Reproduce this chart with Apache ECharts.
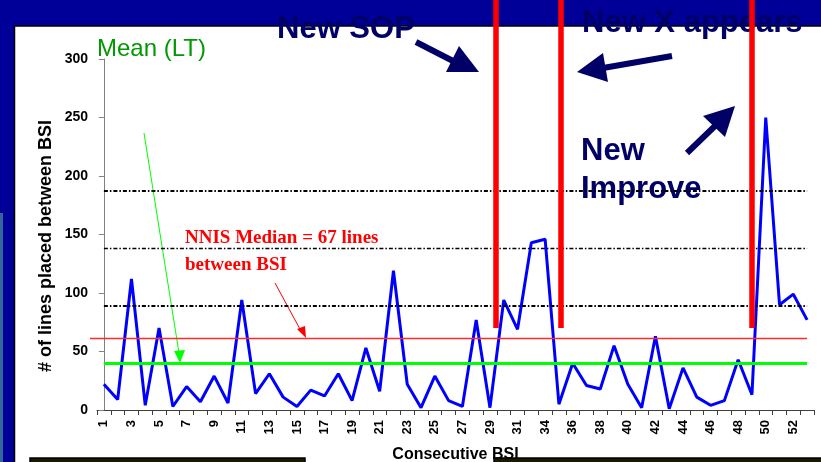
<!DOCTYPE html>
<html><head><meta charset="utf-8">
<script src="https://cdn.jsdelivr.net/npm/echarts@6/dist/echarts.min.js"></script>
<style>html,body{margin:0;padding:0;background:#fff}#c{width:821px;height:462px}</style>
</head><body><div id="c"></div>
<script>
// ---- data ----
const categories = ['1','2','3','4','5','6','7','8','9','10','11','12','13','14','15','16','17','18','19','20','21','22','23','24','25','26','27','28','29','30','31','32','34','35','36','37','38','39','40','41','42','43','44','45','46','47','48','49','50','51','52','53'];
const linesBetweenBSI = [22,9,112,4,70,3,20,7,29,6,94,14,31,11,3,17,12,31,8,53,16,119,22,2,29,8,3,77,2,94,69,143,146,5,40,21,18,55,22,2,63,1,36,11,4,8,43,13,250,90,99,77];
const yMin = 0, yMax = 300, yInterval = 50;
const meanLT = 40;
const nnisLine = 61;
const controlLines = [89, 138, 187];
const changePositions = [28.45, 33.1, 47.0]; // category index positions of the red change bars
const changeBarBottom = 70;

const FONT = 'Liberation Sans';
const NAVY = '#000066';
const chart = echarts.init(document.getElementById('c'), null, {renderer:'canvas'});

const firstIdx = 0, lastIdx = categories.length - 1;

const dashData = controlLines.map((v, i) => [
  {coord:[firstIdx, v], lineStyle:{color:'#000', width: i === 1 ? 1.4 : 2, type:[4,2,1.5,2]}},
  {coord:[lastIdx, v]}
]);

const changeData = changePositions.map(p => [
  {coord:[p, changeBarBottom]},
  {xAxis: p, y: 0}
]);

function arrow(shaft, head, color, width) {
  return [
    {type:'polyline', shape:{points:shaft}, style:{stroke:color, lineWidth:width, fill:null}, z:1, silent:true},
    {type:'polygon', shape:{points:head}, style:{fill:color}, z:1, silent:true}
  ];
}

function txt(x, y, text, size, color, weight, family) {
  return {type:'text', x:x, y:y, z:1, silent:true,
    style:{text:text, fill:color, font:(weight||'normal') + ' ' + size + 'px "' + (family||FONT) + '"', textVerticalAlign:'middle', verticalAlign:'middle', align:'left'}};
}

const option = {
  backgroundColor:'#ffffff',
  animation:false,
  grid:{left:97, right:7, top:59, bottom:52, containLabel:false, outerBoundsMode:'none'},
  xAxis:[{
    type:'category', data:categories, boundaryGap:true,
    axisLine:{show:true, lineStyle:{color:'#404040', width:1}},
    axisTick:{show:true, interval:0, length:5, lineStyle:{color:'#404040'}},
    axisLabel:{interval:1, rotate:90, margin:10, color:'#000', fontFamily:FONT, fontWeight:'bold', fontSize:13},
    splitLine:{show:false},
    name:'Consecutive BSI', nameLocation:'middle', nameGap:37, nameMoveOverlap:false,
    nameTextStyle:{color:'#000', fontFamily:FONT, fontWeight:'bold', fontSize:16}
  },{
    type:'value', min:-0.5, max:categories.length - 0.5, show:false
  }],
  yAxis:{
    type:'value', min:yMin, max:yMax, interval:yInterval,
    axisLine:{show:true, lineStyle:{color:'#808080', width:1}},
    axisTick:{show:true, length:5, lineStyle:{color:'#808080'}},
    axisLabel:{margin:9, color:'#000', fontFamily:FONT, fontWeight:'bold', fontSize:14},
    splitLine:{show:false},
    name:'# of lines placed between BSI', nameLocation:'middle', nameGap:42, nameRotate:90, nameMoveOverlap:false,
    nameTextStyle:{color:'#000', fontFamily:FONT, fontWeight:'bold', fontSize:18, padding:[0,23,0,0]}
  },
  series:[
    {
      type:'line', xAxisIndex:1, data:[], silent:true, z:2,
      markLine:{silent:true, symbol:['none','none'], label:{show:false}, animation:false,
        data:[
          [{coord:[firstIdx, meanLT], lineStyle:{color:'#00ff00', width:3, type:'solid'}}, {coord:[lastIdx, meanLT]}],
          [{x:90, yAxis:nnisLine, lineStyle:{color:'#ff2a2a', width:1.3, type:'solid'}}, {coord:[lastIdx, nnisLine]}]
        ].concat(dashData)
      }
    },
    {
      type:'line', data:linesBetweenBSI, xAxisIndex:0, z:3, silent:true,
      symbol:'none', showSymbol:false, smooth:false,
      lineStyle:{color:'#0000ff', width:3}
    },
    {
      type:'line', xAxisIndex:1, data:[], silent:true, z:4,
      markLine:{silent:true, symbol:['none','none'], label:{show:false}, animation:false,
        lineStyle:{color:'#ff0000', width:5.5, type:'solid'},
        data: changeData
      }
    }
  ],
  graphic:{elements:[
    {type:'rect', shape:{x:0, y:0, width:821, height:26}, style:{fill:'#000099'}, z:0, silent:true},
    {type:'rect', shape:{x:0, y:0, width:14, height:462}, style:{fill:'#000099'}, z:0, silent:true},
    {type:'rect', shape:{x:0, y:213, width:3, height:249}, style:{fill:'#336699'}, z:0, silent:true},
    {type:'line', shape:{x1:14, y1:26, x2:821, y2:26}, style:{stroke:'#000', lineWidth:1.5}, z:0, silent:true},
    {type:'line', shape:{x1:14.5, y1:26, x2:14.5, y2:462}, style:{stroke:'#000', lineWidth:1.5}, z:0, silent:true},
    {type:'rect', shape:{x:30, y:458, width:275, height:8}, style:{fill:'#1a1a00', stroke:'#000', lineWidth:1.5}, z:10, silent:true},
    {type:'rect', shape:{x:494, y:458, width:330, height:8}, style:{fill:'#1a1a00', stroke:'#000', lineWidth:1.5}, z:10, silent:true},
    txt(277, 29, 'New SOP', 31, NAVY, 'bold'),
    txt(582, 23, 'New X appears', 31, NAVY, 'bold'),
    txt(581, 151, 'New', 31, NAVY, 'bold'),
    txt(581, 189, 'Improve', 31, NAVY, 'bold'),
    txt(97, 49.5, 'Mean (LT)', 24, '#009900', 'normal'),
    txt(185, 238.5, 'NNIS Median = 67 lines', 19, '#ff0000', 'bold', 'Liberation Serif'),
    txt(185, 265.5, 'between BSI', 19, '#ff0000', 'bold', 'Liberation Serif')
  ]
  .concat(arrow([[416,42],[455,62]], [[446,72],[479,72],[459,46]], NAVY, 6))
  .concat(arrow([[672,56],[603,68]], [[577,72],[603,53],[608,82]], NAVY, 6))
  .concat(arrow([[687,153],[716,125]], [[735,106],[703,116],[725,137]], NAVY, 6))
  .concat(arrow([[144,133],[179,353]], [[174,351],[185,350],[180,363]], '#00ff00', 1))
  .concat(arrow([[275,283],[301,331]], [[297,329],[305,326],[306,338]], '#ff0000', 1))
  }
};
chart.setOption(option);
</script>
</body></html>
